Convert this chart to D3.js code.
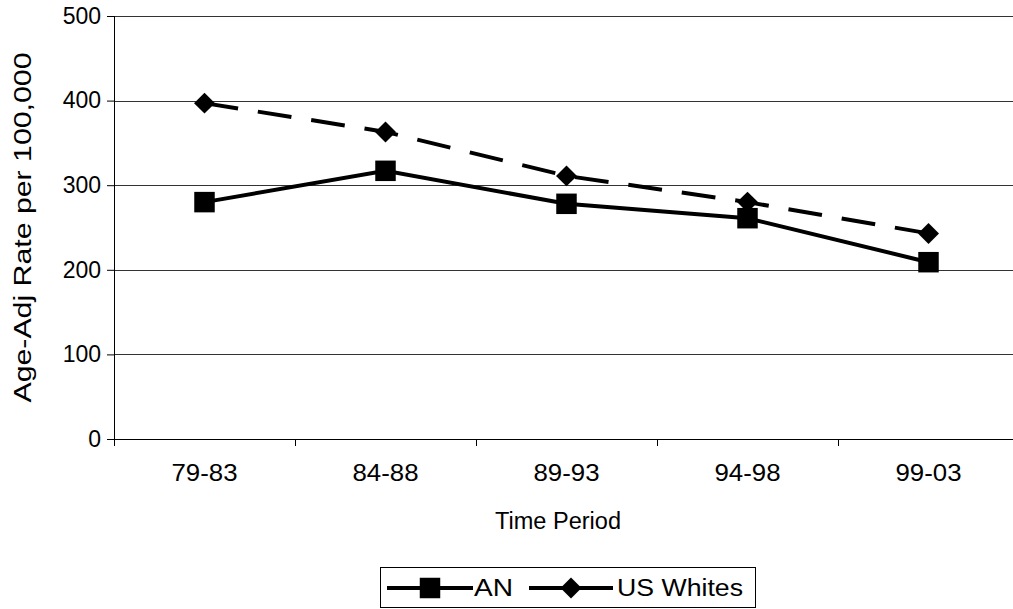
<!DOCTYPE html>
<html>
<head>
<meta charset="utf-8">
<script src="https://cdn.jsdelivr.net/npm/d3@7"></script>
<style>
  body { margin: 0; background: #fff; }
  svg { display: block; font-family: "Liberation Sans", Arial, sans-serif; }
</style>
</head>
<body>
<div id="chart"></div>
<script>
// data
const periods = ["79-83", "84-88", "89-93", "94-98", "99-03"];
const anValues = [280, 317, 278, 261, 209];
const usWhitesValues = [397, 363, 311, 280, 243];
const yTicks = [0, 100, 200, 300, 400, 500];
const seriesNames = ["AN", "US Whites"];

const W = 1013, H = 609;
const margin = { top: 16, left: 114, bottom: 170 };
const plotRight = 1019;
const plotBottom = H - margin.bottom;
const fontSize = "23px";

const svg = d3.select("#chart")
    .append("svg")
    .attr("width", W)
    .attr("height", H);

const x = d3.scaleBand()
    .domain(periods)
    .range([margin.left, plotRight])
    .paddingInner(0)
    .paddingOuter(0);

const y = d3.scaleLinear()
    .domain([0, 500])
    .range([plotBottom, margin.top]);

// y axis ticks + labels
const yAxis = svg.append("g")
    .attr("transform", "translate(" + margin.left + ",0)")
    .call(d3.axisLeft(y).tickValues(yTicks).tickSize(7).tickPadding(6));
yAxis.select(".domain").remove();
yAxis.selectAll(".tick text")
    .style("font-size", fontSize)
    .attr("fill", "#000");
yAxis.selectAll(".tick line").attr("stroke", "#000");

// gridlines
svg.append("g")
    .selectAll("line")
    .data(yTicks.filter(t => t > 0))
    .enter()
    .append("line")
    .attr("x1", margin.left)
    .attr("x2", W)
    .attr("y1", d => Math.round(y(d)) + 0.5)
    .attr("y2", d => Math.round(y(d)) + 0.5)
    .attr("stroke", "#333")
    .attr("stroke-width", 1);

// y axis line
svg.append("line")
    .attr("x1", margin.left + 0.5)
    .attr("x2", margin.left + 0.5)
    .attr("y1", margin.top)
    .attr("y2", plotBottom + 7)
    .attr("stroke", "#000");

// x axis
svg.append("line")
    .attr("x1", margin.left - 7)
    .attr("x2", W)
    .attr("y1", Math.round(plotBottom) + 0.5)
    .attr("y2", Math.round(plotBottom) + 0.5)
    .attr("stroke", "#000");

const boundaries = periods.map(p => x(p)).concat([x.range()[1]]);
svg.append("g")
    .selectAll("line")
    .data(boundaries.slice(1))
    .enter()
    .append("line")
    .attr("x1", d => Math.round(d) + 0.5)
    .attr("x2", d => Math.round(d) + 0.5)
    .attr("y1", plotBottom)
    .attr("y2", plotBottom + 7)
    .attr("stroke", "#000");

svg.append("g")
    .selectAll("text")
    .data(periods)
    .enter()
    .append("text")
    .attr("x", d => x(d) + x.bandwidth() / 2)
    .attr("y", plotBottom + 42)
    .attr("text-anchor", "middle")
    .attr("textLength", 66)
    .attr("lengthAdjust", "spacingAndGlyphs")
    .style("font-size", fontSize)
    .text(d => d);

// axis titles
svg.append("text")
    .attr("x", 558)
    .attr("y", 529)
    .attr("text-anchor", "middle")
    .attr("textLength", 126)
    .attr("lengthAdjust", "spacingAndGlyphs")
    .style("font-size", fontSize)
    .text("Time Period");

svg.append("text")
    .attr("transform", "translate(31," + ((margin.top + plotBottom) / 2) + ") rotate(-90)")
    .attr("text-anchor", "middle")
    .attr("textLength", 350)
    .attr("lengthAdjust", "spacingAndGlyphs")
    .style("font-size", fontSize)
    .text("Age-Adj Rate per 100,000");

const cx = d => x(d) + x.bandwidth() / 2;

const line = d3.line()
    .x((v, i) => cx(periods[i]))
    .y(v => y(v));

// US Whites dashed
svg.append("path")
    .datum(usWhitesValues)
    .attr("d", line)
    .attr("fill", "none")
    .attr("stroke", "#000")
    .attr("stroke-width", 4)
    .attr("stroke-dasharray", "34,20");

// AN solid
svg.append("path")
    .datum(anValues)
    .attr("d", line)
    .attr("fill", "none")
    .attr("stroke", "#000")
    .attr("stroke-width", 4);

const diamond = d3.symbol().type(d3.symbolDiamond2).size(280);
const square = d3.symbol().type(d3.symbolSquare).size(420);

svg.append("g")
    .selectAll("path")
    .data(usWhitesValues)
    .enter()
    .append("path")
    .attr("d", diamond)
    .attr("transform", (v, i) => "translate(" + cx(periods[i]) + "," + y(v) + ")")
    .attr("fill", "#000");

svg.append("g")
    .selectAll("path")
    .data(anValues)
    .enter()
    .append("path")
    .attr("d", square)
    .attr("transform", (v, i) => "translate(" + cx(periods[i]) + "," + y(v) + ")")
    .attr("fill", "#000");

// legend
const legend = svg.append("g");
legend.append("rect")
    .attr("x", 380.5)
    .attr("y", 567.5)
    .attr("width", 375)
    .attr("height", 40)
    .attr("fill", "#fff")
    .attr("stroke", "#000");

const legendItems = [
    { name: seriesNames[0], x0: 387, x1: 473, sym: square, tx: 474, len: 39 },
    { name: seriesNames[1], x0: 529, x1: 613, sym: diamond, tx: 617, len: 126 }
];
legendItems.forEach(it => {
    legend.append("line")
        .attr("x1", it.x0).attr("x2", it.x1)
        .attr("y1", 588).attr("y2", 588)
        .attr("stroke", "#000")
        .attr("stroke-width", 4);
    legend.append("path")
        .attr("d", it.sym)
        .attr("transform", "translate(" + ((it.x0 + it.x1) / 2) + ",588)")
        .attr("fill", "#000");
    legend.append("text")
        .attr("x", it.tx)
        .attr("y", 596)
        .attr("textLength", it.len)
        .attr("lengthAdjust", "spacingAndGlyphs")
        .style("font-size", fontSize)
        .text(it.name);
});
</script>
</body>
</html>
